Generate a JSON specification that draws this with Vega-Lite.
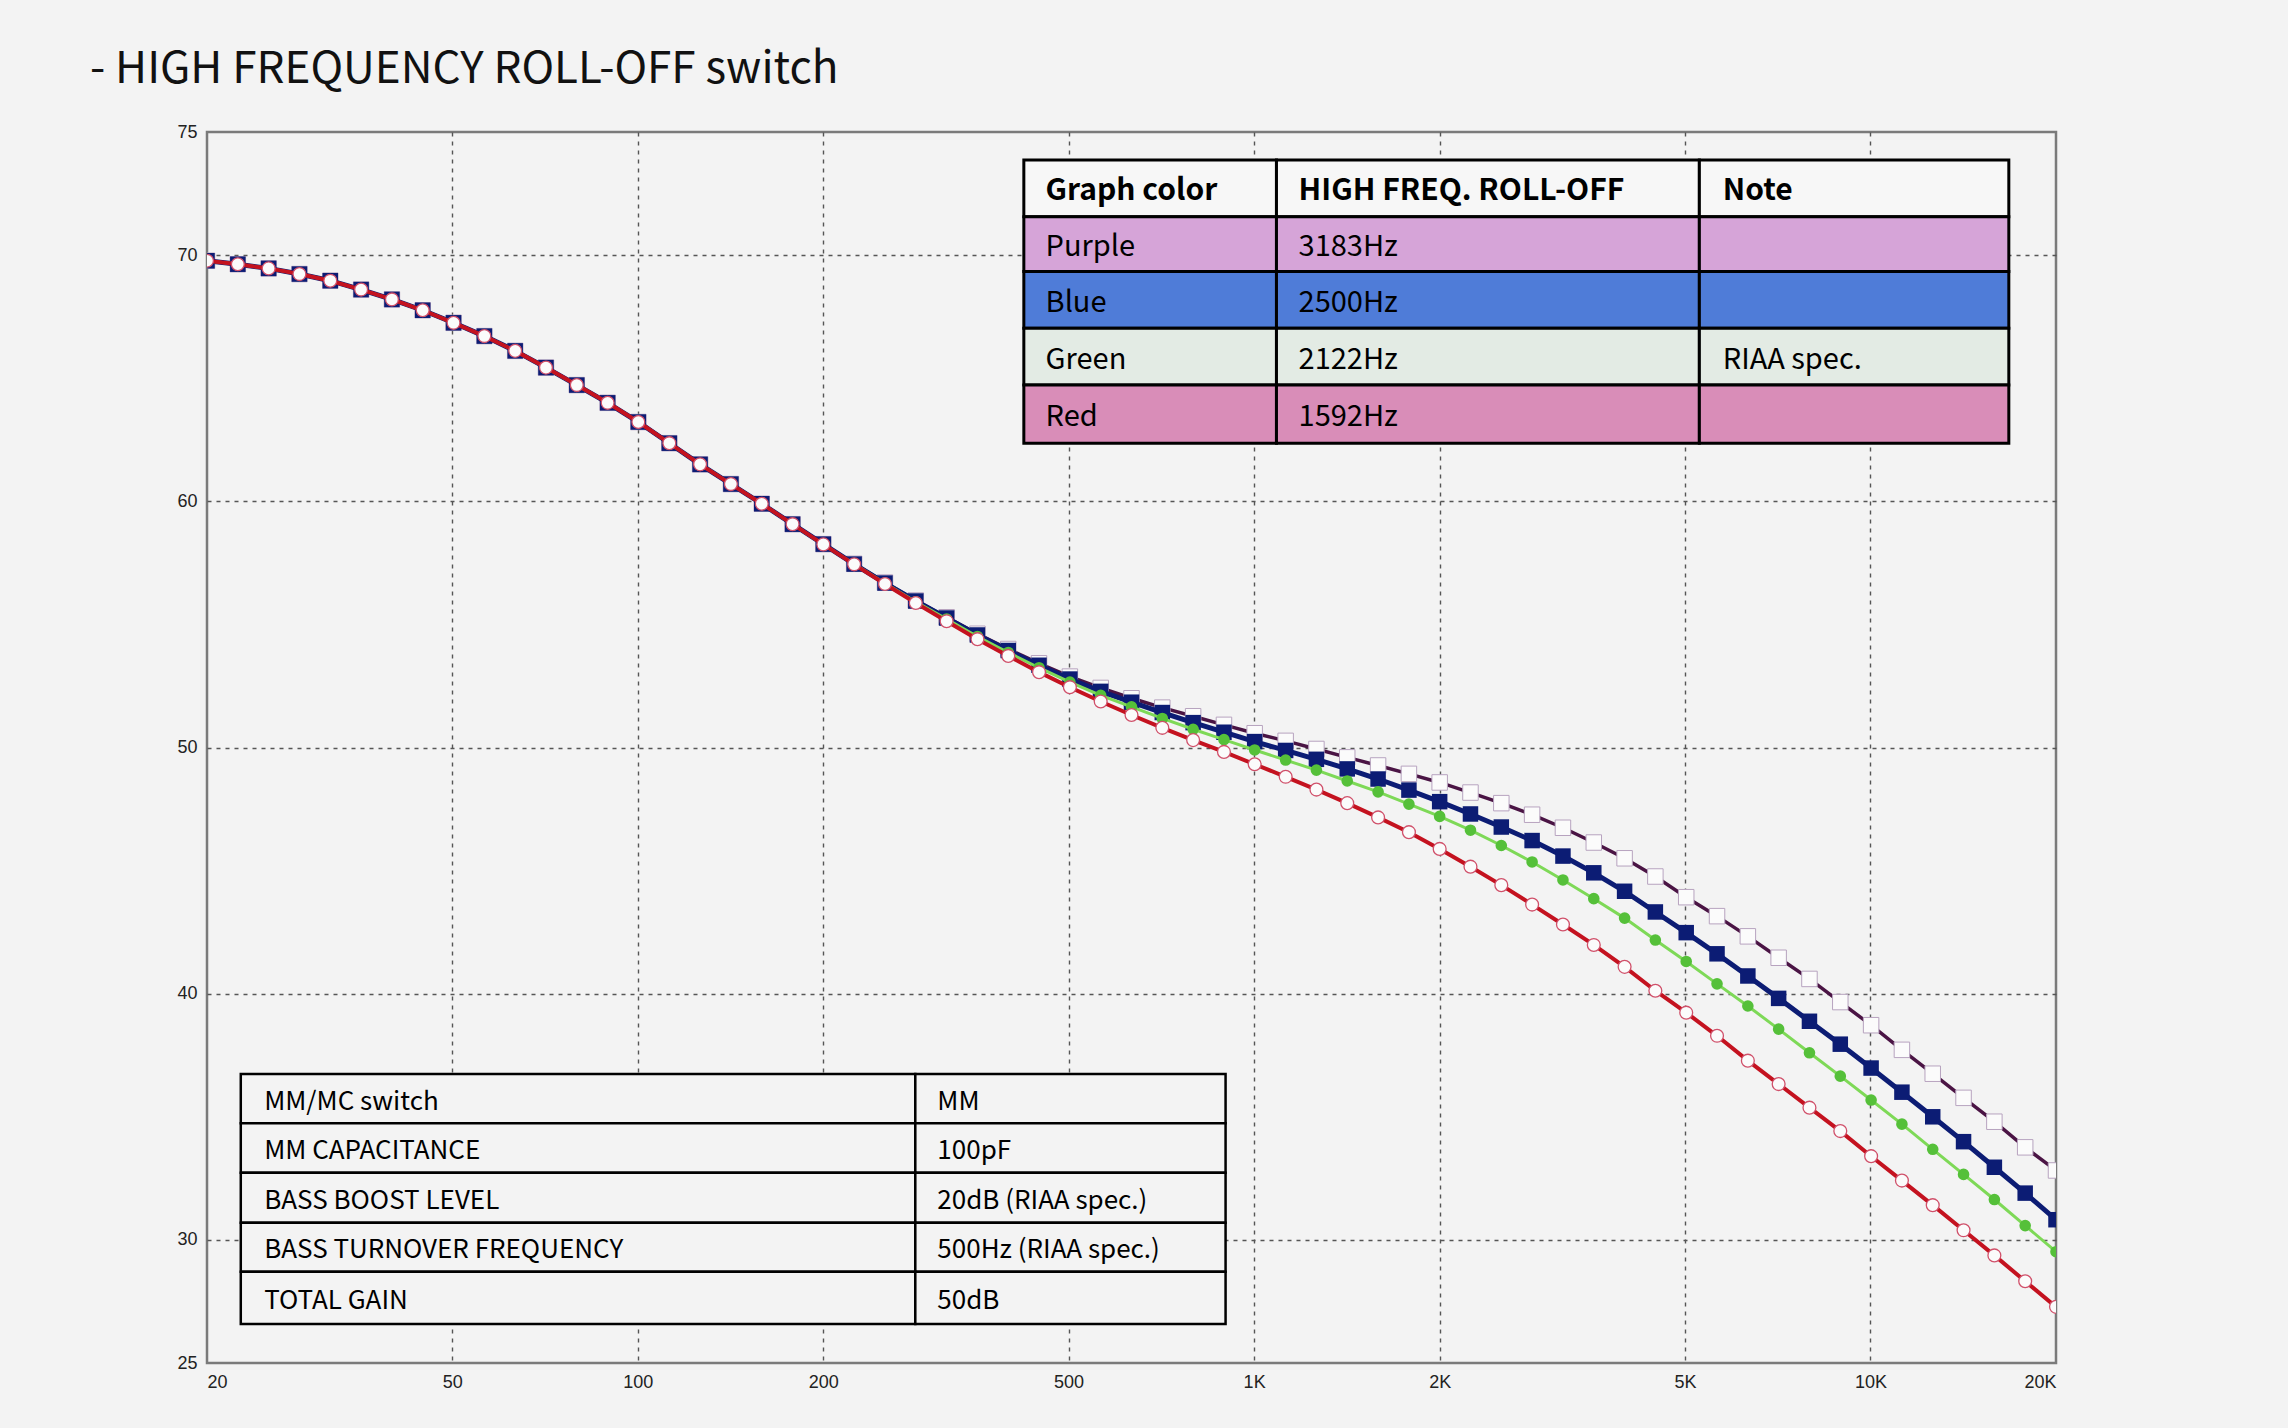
{
  "$schema": "https://vega.github.io/schema/vega-lite/v6.json",
  "width": 1849,
  "height": 1231,
  "autosize": "none",
  "padding": {"left": 207, "top": 132, "right": 232, "bottom": 65},
  "background": "#f3f3f3",
  "title": {
    "text": "- HIGH FREQUENCY ROLL-OFF switch",
    "anchor": "start",
    "frame": "group",
    "dx": -117,
    "dy": 44,
    "offset": 40,
    "baseline": "alphabetic",
    "font": "Noto Sans CJK KR",
    "fontSize": 44,
    "fontWeight": "normal",
    "color": "#111111"
  },
  "config": {
    "view": {"stroke": "#7a7a7a", "strokeWidth": 2.5},
    "axis": {
      "domain": false,
      "ticks": false,
      "grid": true,
      "gridColor": "#555555",
      "gridDash": [4, 5],
      "gridWidth": 1.4,
      "labelFont": "Liberation Sans",
      "labelFontSize": 18,
      "labelColor": "#222222",
      "labelPadding": 10
    }
  },
  "datasets": {
    "curves": [
      {"f": 20, "P": 69.77, "B": 69.77, "G": 69.77, "R": 69.77},
      {"f": 22.44, "P": 69.63, "B": 69.63, "G": 69.63, "R": 69.63},
      {"f": 25.18, "P": 69.46, "B": 69.46, "G": 69.46, "R": 69.46},
      {"f": 28.25, "P": 69.23, "B": 69.23, "G": 69.23, "R": 69.23},
      {"f": 31.7, "P": 68.96, "B": 68.96, "G": 68.96, "R": 68.96},
      {"f": 35.57, "P": 68.6, "B": 68.6, "G": 68.6, "R": 68.6},
      {"f": 39.91, "P": 68.2, "B": 68.2, "G": 68.2, "R": 68.2},
      {"f": 44.77, "P": 67.76, "B": 67.76, "G": 67.76, "R": 67.76},
      {"f": 50.24, "P": 67.25, "B": 67.25, "G": 67.25, "R": 67.25},
      {"f": 56.37, "P": 66.71, "B": 66.71, "G": 66.71, "R": 66.71},
      {"f": 63.25, "P": 66.11, "B": 66.11, "G": 66.11, "R": 66.11},
      {"f": 70.96, "P": 65.43, "B": 65.43, "G": 65.43, "R": 65.43},
      {"f": 79.62, "P": 64.72, "B": 64.72, "G": 64.72, "R": 64.72},
      {"f": 89.34, "P": 64.0, "B": 64.0, "G": 64.0, "R": 64.0},
      {"f": 100.2, "P": 63.22, "B": 63.22, "G": 63.22, "R": 63.22},
      {"f": 112.5, "P": 62.36, "B": 62.36, "G": 62.36, "R": 62.36},
      {"f": 126.2, "P": 61.5, "B": 61.5, "G": 61.5, "R": 61.5},
      {"f": 141.6, "P": 60.7, "B": 60.7, "G": 60.7, "R": 60.7},
      {"f": 158.9, "P": 59.9, "B": 59.9, "G": 59.9, "R": 59.9},
      {"f": 178.3, "P": 59.07, "B": 59.07, "G": 59.07, "R": 59.07},
      {"f": 200, "P": 58.26, "B": 58.26, "G": 58.25, "R": 58.25},
      {"f": 224.4, "P": 57.46, "B": 57.45, "G": 57.45, "R": 57.44},
      {"f": 251.8, "P": 56.7, "B": 56.68, "G": 56.67, "R": 56.64},
      {"f": 282.5, "P": 55.97, "B": 55.95, "G": 55.92, "R": 55.87},
      {"f": 317.0, "P": 55.29, "B": 55.26, "G": 55.22, "R": 55.13},
      {"f": 355.7, "P": 54.62, "B": 54.57, "G": 54.51, "R": 54.4},
      {"f": 399.1, "P": 54.0, "B": 53.94, "G": 53.86, "R": 53.72},
      {"f": 447.7, "P": 53.42, "B": 53.34, "G": 53.24, "R": 53.06},
      {"f": 502.4, "P": 52.88, "B": 52.78, "G": 52.66, "R": 52.45},
      {"f": 563.7, "P": 52.42, "B": 52.28, "G": 52.12, "R": 51.87},
      {"f": 632.5, "P": 52.0, "B": 51.84, "G": 51.65, "R": 51.32},
      {"f": 709.6, "P": 51.62, "B": 51.42, "G": 51.18, "R": 50.8},
      {"f": 796.2, "P": 51.27, "B": 51.01, "G": 50.74, "R": 50.3},
      {"f": 893.4, "P": 50.92, "B": 50.62, "G": 50.32, "R": 49.82},
      {"f": 1002, "P": 50.58, "B": 50.24, "G": 49.9, "R": 49.32},
      {"f": 1125, "P": 50.27, "B": 49.88, "G": 49.49, "R": 48.81},
      {"f": 1262, "P": 49.94, "B": 49.52, "G": 49.08, "R": 48.29},
      {"f": 1416, "P": 49.6, "B": 49.13, "G": 48.64, "R": 47.74},
      {"f": 1589, "P": 49.27, "B": 48.72, "G": 48.2, "R": 47.16},
      {"f": 1783, "P": 48.93, "B": 48.27, "G": 47.7, "R": 46.56},
      {"f": 2000, "P": 48.58, "B": 47.8, "G": 47.2, "R": 45.88},
      {"f": 2244, "P": 48.17, "B": 47.3, "G": 46.64, "R": 45.16},
      {"f": 2518, "P": 47.74, "B": 46.77, "G": 46.02, "R": 44.41},
      {"f": 2825, "P": 47.27, "B": 46.22, "G": 45.35, "R": 43.62},
      {"f": 3170, "P": 46.74, "B": 45.59, "G": 44.62, "R": 42.81},
      {"f": 3557, "P": 46.14, "B": 44.91, "G": 43.86, "R": 41.98},
      {"f": 3991, "P": 45.5, "B": 44.16, "G": 43.07, "R": 41.09},
      {"f": 4477, "P": 44.76, "B": 43.32, "G": 42.18, "R": 40.12},
      {"f": 5024, "P": 43.92, "B": 42.48, "G": 41.31, "R": 39.23},
      {"f": 5637, "P": 43.15, "B": 41.62, "G": 40.4, "R": 38.29},
      {"f": 6325, "P": 42.33, "B": 40.72, "G": 39.5, "R": 37.28},
      {"f": 7096, "P": 41.46, "B": 39.81, "G": 38.56, "R": 36.33},
      {"f": 7962, "P": 40.6, "B": 38.88, "G": 37.6, "R": 35.37},
      {"f": 8934, "P": 39.66, "B": 37.95, "G": 36.65, "R": 34.42},
      {"f": 10024, "P": 38.72, "B": 36.98, "G": 35.68, "R": 33.4},
      {"f": 11247, "P": 37.72, "B": 36.0, "G": 34.7, "R": 32.41},
      {"f": 12619, "P": 36.75, "B": 35.0, "G": 33.68, "R": 31.41},
      {"f": 14159, "P": 35.77, "B": 33.99, "G": 32.66, "R": 30.39},
      {"f": 15887, "P": 34.8, "B": 32.95, "G": 31.64, "R": 29.37},
      {"f": 17825, "P": 33.76, "B": 31.9, "G": 30.58, "R": 28.32},
      {"f": 20000, "P": 32.82, "B": 30.82, "G": 29.52, "R": 27.28}
    ],
    "topCells": [
      {"a": 423, "b": 1087, "lo": 71.56, "hi": 73.86, "row": "head"},
      {"a": 1087, "b": 5277, "lo": 71.56, "hi": 73.86, "row": "head"},
      {"a": 5277, "b": 16768, "lo": 71.56, "hi": 73.86, "row": "head"},
      {"a": 423, "b": 1087, "lo": 69.33, "hi": 71.56, "row": "Purple"},
      {"a": 1087, "b": 5277, "lo": 69.33, "hi": 71.56, "row": "Purple"},
      {"a": 5277, "b": 16768, "lo": 69.33, "hi": 71.56, "row": "Purple"},
      {"a": 423, "b": 1087, "lo": 67.03, "hi": 69.33, "row": "Blue"},
      {"a": 1087, "b": 5277, "lo": 67.03, "hi": 69.33, "row": "Blue"},
      {"a": 5277, "b": 16768, "lo": 67.03, "hi": 69.33, "row": "Blue"},
      {"a": 423, "b": 1087, "lo": 64.72, "hi": 67.03, "row": "Green"},
      {"a": 1087, "b": 5277, "lo": 64.72, "hi": 67.03, "row": "Green"},
      {"a": 5277, "b": 16768, "lo": 64.72, "hi": 67.03, "row": "Green"},
      {"a": 423, "b": 1087, "lo": 62.36, "hi": 64.72, "row": "Red"},
      {"a": 1087, "b": 5277, "lo": 62.36, "hi": 64.72, "row": "Red"},
      {"a": 5277, "b": 16768, "lo": 62.36, "hi": 64.72, "row": "Red"}
    ],
    "botCells": [
      {"a": 22.69, "b": 282.0, "lo": 34.74, "hi": 36.74},
      {"a": 282.0, "b": 898.8, "lo": 34.74, "hi": 36.74},
      {"a": 22.69, "b": 282.0, "lo": 32.73, "hi": 34.74},
      {"a": 282.0, "b": 898.8, "lo": 32.73, "hi": 34.74},
      {"a": 22.69, "b": 282.0, "lo": 30.7, "hi": 32.73},
      {"a": 282.0, "b": 898.8, "lo": 30.7, "hi": 32.73},
      {"a": 22.69, "b": 282.0, "lo": 28.71, "hi": 30.7},
      {"a": 282.0, "b": 898.8, "lo": 28.71, "hi": 30.7},
      {"a": 22.69, "b": 282.0, "lo": 26.58, "hi": 28.71},
      {"a": 282.0, "b": 898.8, "lo": 26.58, "hi": 28.71}
    ],
    "topHead": [
      {"t": "Graph color", "f": 458.8, "db": 72.59},
      {"t": "HIGH FREQ. ROLL-OFF", "f": 1180.6, "db": 72.59},
      {"t": "Note", "f": 5760, "db": 72.59}
    ],
    "topBody": [
      {"t": "Purple", "f": 458.8, "db": 70.32},
      {"t": "3183Hz", "f": 1180.6, "db": 70.32},
      {"t": "Blue", "f": 458.8, "db": 68.05},
      {"t": "2500Hz", "f": 1180.6, "db": 68.05},
      {"t": "Green", "f": 458.8, "db": 65.75},
      {"t": "2122Hz", "f": 1180.6, "db": 65.75},
      {"t": "RIAA spec.", "f": 5760, "db": 65.75},
      {"t": "Red", "f": 458.8, "db": 63.42},
      {"t": "1592Hz", "f": 1180.6, "db": 63.42}
    ],
    "botText": [
      {"t": "MM/MC switch", "f": 24.76, "db": 35.62},
      {"t": "MM", "f": 306.2, "db": 35.62},
      {"t": "MM CAPACITANCE", "f": 24.76, "db": 33.61},
      {"t": "100pF", "f": 306.2, "db": 33.61},
      {"t": "BASS BOOST LEVEL", "f": 24.76, "db": 31.59},
      {"t": "20dB (RIAA spec.)", "f": 306.2, "db": 31.59},
      {"t": "BASS TURNOVER FREQUENCY", "f": 24.76, "db": 29.58},
      {"t": "500Hz (RIAA spec.)", "f": 306.2, "db": 29.58},
      {"t": "TOTAL GAIN", "f": 24.76, "db": 27.52},
      {"t": "50dB", "f": 306.2, "db": 27.52}
    ]
  },
  "layer": [
    {
      "data": {"name": "curves"},
      "mark": {"type": "line", "color": "#4a1444", "strokeWidth": 3.5, "clip": true},
      "encoding": {
        "x": {
          "field": "f", "type": "quantitative", "title": null,
          "scale": {"type": "log", "domain": [20, 20000], "nice": false},
          "axis": {
            "values": [20, 50, 100, 200, 500, 1000, 2000, 5000, 10000, 20000],
            "labelExpr": "datum.value >= 1000 ? (datum.value / 1000) + 'K' : datum.label",
            "labelFlush": true,
            "gridOpacity": {"condition": {"test": "datum.value == 20 || datum.value == 20000", "value": 0}, "value": 1}
          }
        },
        "y": {
          "field": "P", "type": "quantitative", "title": null,
          "scale": {"domain": [25, 75], "nice": false, "zero": false},
          "axis": {
            "values": [25, 30, 40, 50, 60, 70, 75],
            "gridOpacity": {"condition": {"test": "datum.value == 25 || datum.value == 75", "value": 0}, "value": 1}
          }
        }
      }
    },
    {
      "data": {"name": "curves"},
      "mark": {"type": "point", "shape": "square", "filled": true, "fill": "#fbfbfb", "stroke": "#b7a3bf", "strokeWidth": 1, "size": 240, "opacity": 1, "clip": true},
      "encoding": {
        "x": {"field": "f", "type": "quantitative", "title": null},
        "y": {"field": "P", "type": "quantitative", "title": null}
      }
    },
    {
      "data": {"name": "curves"},
      "mark": {"type": "line", "color": "#0c1c74", "strokeWidth": 5, "clip": true},
      "encoding": {
        "x": {"field": "f", "type": "quantitative", "title": null},
        "y": {"field": "B", "type": "quantitative", "title": null}
      }
    },
    {
      "data": {"name": "curves"},
      "mark": {"type": "point", "shape": "square", "filled": true, "color": "#0c1c74", "size": 240, "opacity": 1, "clip": true},
      "encoding": {
        "x": {"field": "f", "type": "quantitative", "title": null},
        "y": {"field": "B", "type": "quantitative", "title": null}
      }
    },
    {
      "data": {"name": "curves"},
      "mark": {"type": "line", "color": "#7ed957", "strokeWidth": 3, "clip": true},
      "encoding": {
        "x": {"field": "f", "type": "quantitative", "title": null},
        "y": {"field": "G", "type": "quantitative", "title": null}
      }
    },
    {
      "data": {"name": "curves"},
      "mark": {"type": "point", "shape": "circle", "filled": true, "color": "#55c039", "size": 135, "opacity": 1, "clip": true},
      "encoding": {
        "x": {"field": "f", "type": "quantitative", "title": null},
        "y": {"field": "G", "type": "quantitative", "title": null}
      }
    },
    {
      "data": {"name": "curves"},
      "mark": {"type": "line", "color": "#c4121f", "strokeWidth": 4, "clip": true},
      "encoding": {
        "x": {"field": "f", "type": "quantitative", "title": null},
        "y": {"field": "R", "type": "quantitative", "title": null}
      }
    },
    {
      "data": {"name": "curves"},
      "mark": {"type": "point", "shape": "circle", "filled": true, "fill": "#fbfbfb", "stroke": "#d0506a", "strokeWidth": 1.3, "size": 165, "opacity": 1, "clip": true},
      "encoding": {
        "x": {"field": "f", "type": "quantitative", "title": null},
        "y": {"field": "R", "type": "quantitative", "title": null}
      }
    },
    {
      "data": {"name": "topCells"},
      "mark": {"type": "rect", "stroke": "#000000", "strokeWidth": 3, "opacity": 1},
      "encoding": {
        "x": {"field": "a", "type": "quantitative", "title": null},
        "x2": {"field": "b"},
        "y": {"field": "lo", "type": "quantitative", "title": null},
        "y2": {"field": "hi"},
        "fill": {
          "field": "row", "type": "nominal", "legend": null,
          "scale": {"domain": ["head", "Purple", "Blue", "Green", "Red"], "range": ["#f7f7f7", "#d6a4d8", "#4f7cd8", "#e3ebe4", "#d98db8"]}
        }
      }
    },
    {
      "data": {"name": "botCells"},
      "mark": {"type": "rect", "stroke": "#000000", "strokeWidth": 2.5, "fill": "#f3f3f3", "opacity": 1},
      "encoding": {
        "x": {"field": "a", "type": "quantitative", "title": null},
        "x2": {"field": "b"},
        "y": {"field": "lo", "type": "quantitative", "title": null},
        "y2": {"field": "hi"}
      }
    },
    {
      "data": {"name": "topHead"},
      "mark": {"type": "text", "align": "left", "baseline": "middle", "font": "Noto Sans CJK KR", "fontSize": 30, "fontWeight": "bold", "color": "#000000"},
      "encoding": {
        "x": {"field": "f", "type": "quantitative", "title": null},
        "y": {"field": "db", "type": "quantitative", "title": null},
        "text": {"field": "t"}
      }
    },
    {
      "data": {"name": "topBody"},
      "mark": {"type": "text", "align": "left", "baseline": "middle", "font": "Noto Sans CJK KR", "fontSize": 29, "color": "#000000"},
      "encoding": {
        "x": {"field": "f", "type": "quantitative", "title": null},
        "y": {"field": "db", "type": "quantitative", "title": null},
        "text": {"field": "t"}
      }
    },
    {
      "data": {"name": "botText"},
      "mark": {"type": "text", "align": "left", "baseline": "middle", "font": "Noto Sans CJK KR", "fontSize": 26, "color": "#000000"},
      "encoding": {
        "x": {"field": "f", "type": "quantitative", "title": null},
        "y": {"field": "db", "type": "quantitative", "title": null},
        "text": {"field": "t"}
      }
    }
  ]
}
